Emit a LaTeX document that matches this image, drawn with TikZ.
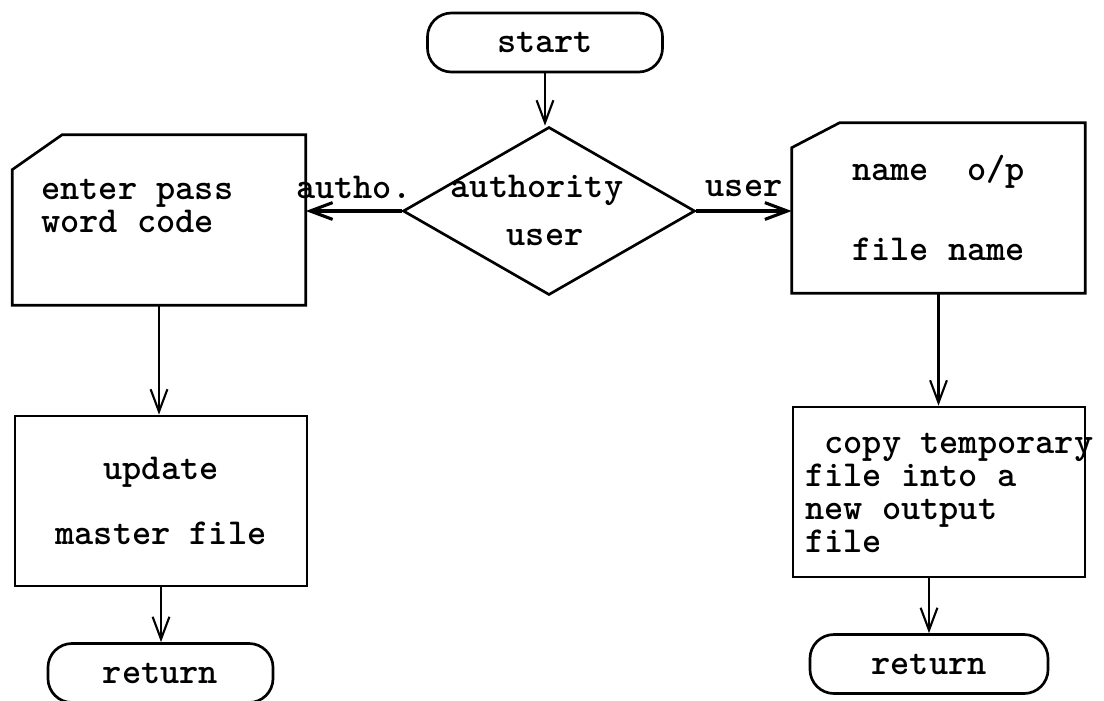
\documentclass[tikz,border=0pt]{standalone}
\usepackage{tikz}
\usetikzlibrary{arrows.meta,positioning,shapes.geometric,calc}
\newcommand{\flowfont}{\fontsize{26}{23.6}\selectfont\ttfamily\bfseries}
\tikzset{
  boxline/.style={line width=1.9pt, draw=black},
  proc/.style={boxline, minimum width=7.3cm, minimum height=4.25cm,
        inner sep=0pt, align=center},
  card/.style={minimum width=7.325cm, minimum height=4.25cm,
        inner sep=0pt, align=center},
  term/.style={boxline, rounded corners=0.6cm, minimum height=1.475cm,
        inner sep=0pt},
  dec/.style={boxline, diamond, minimum width=7.3cm, minimum height=4.2cm,
        inner sep=0pt},
  arr/.style={-{Straight Barb[length=5.6mm,width=4.2mm]}, line width=1.5pt},
  harr/.style={arr, line width=2.2pt},
  lbl/.style={inner sep=0pt}
}

\begin{document}
\begin{tikzpicture}[x=0.025cm, y=-0.025cm, font=\flowfont]
\clip (0,0) rectangle (1104,700);
% top
\node[term, minimum width=5.875cm] (start) at (545,42.5) {start};
\node[dec] (auth) at (549,211) {};
\node[lbl] (authtxt) at (537,190) {authority};
\node[lbl] (usertxt) at (545,237) {user};

% left branch
\node[card] (pwd) at (159,220) {};
\draw[boxline] ($(pwd.north west)+(0,35)$) -- ($(pwd.north west)+(50,0)$)
  -- (pwd.north east) -- (pwd.south east) -- (pwd.south west) -- cycle;
\node[lbl, align=left, anchor=west] (pwdtxt) at (41,206) {enter pass\\word code};
\node[proc] (upd) at (161,501) {update\\[22.4pt]master file};
\node[term, minimum width=5.625cm] (ret1) at (160.5,673) {return};

% right branch
\node[card] (nameop) at (938.5,208) {name\ \ o/p\\[33pt]file name};
\draw[boxline] ($(nameop.north west)+(0,25)$) -- ($(nameop.north west)+(48,0)$)
  -- (nameop.north east) -- (nameop.south east) -- (nameop.south west) -- cycle;
\node[proc] (cpy) at (939,492) {};
\node[lbl, align=left, anchor=west] (cpytxt) at (805,493) {\ copy temporary\\file into a\\new output\\file};
\node[term, minimum width=5.95cm] (ret2) at (929,664) {return};

% arrows
\draw[arr] (start.south) -- (start.south |- auth.north);
\draw[harr] (auth.west) -- node[lbl, above=0.28cm] {autho.} (auth.west -| pwd.east);
\draw[harr] (auth.east) -- node[lbl, above=0.32cm] {user} (auth.east -| nameop.west);
\draw[arr] (pwd.south) -- (pwd.south |- upd.north);
\draw[arr] (upd.south) -- (upd.south |- ret1.north);
\draw[arr] (nameop.south) -- (nameop.south |- cpy.north);
\draw[arr] (ret2.north |- cpy.south) -- (ret2.north);
\end{tikzpicture}
\end{document}
